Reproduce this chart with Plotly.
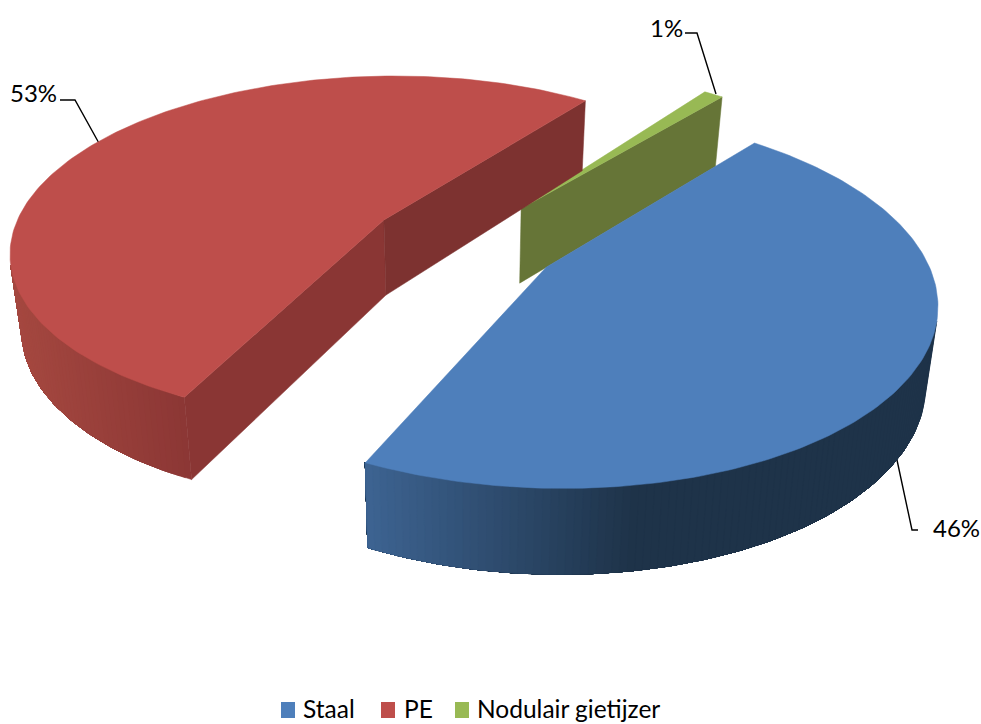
import numpy as np
import plotly.graph_objects as go

# Share of pipe material per category
categories = ["Staal", "PE", "Nodulair gietijzer"]
values = [46, 53, 1]
top_colors = ["#4E7FBB", "#BE4E4B", "#98B954"]
near_cut_colors = ["#1F3349", "#8A3634", "#667537"]
far_cut_colors = ["#1F3349", "#7D3230", "#667537"]
rim_start_colors = [(61, 99, 145), (165, 72, 64), (102, 117, 55)]
rim_end_colors = [(30, 51, 73), (140, 55, 53), (102, 117, 55)]

# Pie camera and shape
first_slice_angle = 50.0
explode = 0.255
center_x, center_y = 464.0, 242.5
radius_x, radius_z = 374.5, 175.0
pie_height = 76.0
perspective = 0.167
wall_taper = 0.026


def project(x, z, h=0.0):
    w = 1 - perspective * z
    return (center_x + radius_x * x / w * (1 - wall_taper * h),
            center_y + radius_z * z / w + pie_height * h / w ** 0.58)


def poly(fig, xs, ys, color):
    fig.add_trace(go.Scatter(x=list(xs), y=list(ys), mode="lines", fill="toself",
                             fillcolor=color, line=dict(color=color, width=0.5),
                             hoverinfo="skip", showlegend=False))


def area(px, py):
    return 0.5 * sum(px[i] * py[(i + 1) % len(px)] - px[(i + 1) % len(px)] * py[i]
                     for i in range(len(px)))


fig = go.Figure()

# Leader lines run underneath the slices
leaders = [
    ([918, 912, 897], [530, 530, 460]),
    ([60, 75, 100], [100, 100, 145]),
    ([685, 697, 716], [33, 33, 94]),
]
for lx, ly in leaders:
    fig.add_trace(go.Scatter(x=lx, y=ly, mode="lines", line=dict(color="black", width=1.4),
                             hoverinfo="skip", showlegend=False))

# Slice geometry follows from the shares
slices = []
start = first_slice_angle
for i, v in enumerate(values):
    sweep = 360.0 * v / sum(values)
    slices.append((i, start, start - sweep))
    start -= sweep


def offset_of(a1, a2):
    mid = np.radians((a1 + a2) / 2)
    return explode * np.cos(mid), -explode * np.sin(mid)


# Far slices are painted first
slices.sort(key=lambda s: offset_of(s[1], s[2])[1])

for i, a1, a2 in slices:
    ox, oz = offset_of(a1, a2)
    n = max(4, int(abs(a1 - a2)))
    th = np.radians(np.linspace(a1, a2, n + 1))
    rx = ox + np.cos(th)
    rz = oz - np.sin(th)

    # Curved outer wall: bands that face the viewer, each painted through to the
    # far end of the wall so that neighbouring bands leave no seam
    top_x, top_y = project(rx, rz)
    bot_x, bot_y = project(rx, rz, 1)
    front = [j for j in range(n)
             if area([top_x[j], top_x[j + 1], bot_x[j + 1], bot_x[j]],
                      [top_y[j], top_y[j + 1], bot_y[j + 1], bot_y[j]]) < 0]
    if front:
        x_lo, x_hi = top_x[front].min(), top_x[front].max()
        last = front[-1] + 1
        for j in front:
            t = (top_x[j] - x_lo) / (x_hi - x_lo)
            if i == 0:
                # Blue is at its darkest from about halfway along the wall
                t = min(1.0, t / 0.47)
            c = [round(rim_start_colors[i][m] + (rim_end_colors[i][m] - rim_start_colors[i][m]) * t)
                 for m in range(3)]
            poly(fig,
                 list(top_x[j:last + 1]) + list(bot_x[j:last + 1][::-1]) + [top_x[j]],
                 list(top_y[j:last + 1]) + list(bot_y[j:last + 1][::-1]) + [top_y[j]],
                 f"rgb({c[0]},{c[1]},{c[2]})")

    # Flat faces along the two radial cuts, where they turn to the viewer
    for k, (ex, ez, col) in enumerate([(rx[0], rz[0], near_cut_colors[i]),
                                       (rx[-1], rz[-1], far_cut_colors[i])]):
        pts = [project(ox, oz), project(ex, ez), project(ex, ez, 1), project(ox, oz, 1)]
        px, py = zip(*pts)
        sign = area(px, py)
        if (k == 0 and sign < 0) or (k == 1 and sign > 0):
            poly(fig, px + px[:1], py + py[:1], col)

    # Top surface
    tx, ty = project(np.r_[ox, rx, ox], np.r_[oz, rz, oz])
    poly(fig, tx, ty, top_colors[i])

# Value labels
label_pos = [(956, 527), (33, 92), (666, 27)]
for v, (lx, ly) in zip(values, label_pos):
    fig.add_annotation(x=lx, y=ly, text=f"{v}%", showarrow=False,
                       font=dict(family="Lato", size=24, color="black"))

# Legend row along the bottom edge
key_left = [281, 381, 455]
text_left = [301, 402, 475]
for name, col, kx, tx0 in zip(categories, top_colors, key_left, text_left):
    fig.add_shape(type="rect", x0=kx, x1=kx + 14, y0=702, y1=718,
                  fillcolor=col, line=dict(width=0))
    fig.add_annotation(x=tx0, y=708, text=name, showarrow=False, xanchor="left",
                       font=dict(family="Lato", size=24.5, color="black"))

fig.update_layout(
    width=981, height=724, autosize=False,
    margin=dict(l=0, r=0, t=0, b=0),
    paper_bgcolor="white", plot_bgcolor="white",
    showlegend=False,
    xaxis=dict(range=[0, 981], visible=False, fixedrange=True),
    yaxis=dict(range=[724, 0], visible=False, fixedrange=True),
)

fig.write_html("out.html")
